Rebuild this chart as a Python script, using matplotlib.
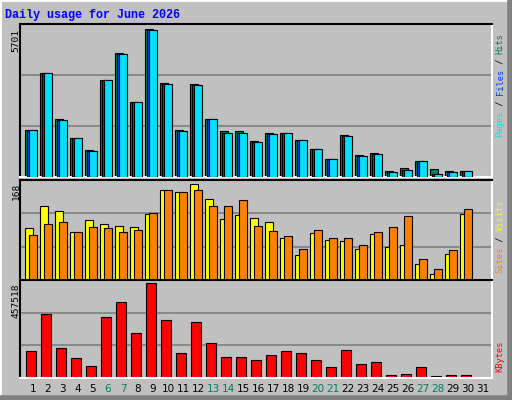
import matplotlib
matplotlib.use("Agg")
import matplotlib.pyplot as plt
from matplotlib.patches import Rectangle
from matplotlib.lines import Line2D

days = list(range(1, 32))
hits = [1802, 4028, 2226, 1493, 1030, 3732, 4775, 2883, 5701, 3616, 1802, 3578, 2226, 1763, 1763,
        1377, 1686, 1686, 1416, 1068, 682, 1609, 837, 914, 219, 335, 605, 296, 219, 219, 0]
files = [1802, 4028, 2188, 1493, 991, 3732, 4736, 2883, 5663, 3578, 1763, 3539, 2226, 1686, 1686,
         1338, 1647, 1686, 1416, 1068, 682, 1570, 798, 875, 180, 257, 605, 103, 180, 219, 0]
pages = [1802, 4028, 2188, 1493, 991, 3732, 4736, 2883, 5663, 3578, 1763, 3539, 2226, 1686, 1686,
         1338, 1647, 1686, 1416, 1068, 682, 1570, 798, 875, 180, 257, 605, 103, 180, 219, 0]
visits = [90, 130, 121, 84, 104, 97, 95, 92, 115, 157, 153, 168, 141, 106, 113, 108, 102, 73, 44, 82,
          70, 68, 55, 81, 57, 61, 28, 10, 46, 115, 0]
sites = [79, 97, 102, 84, 92, 90, 84, 88, 117, 157, 153, 157, 130, 130, 139, 95, 86, 77, 55, 88,
         73, 73, 61, 84, 92, 112, 37, 19, 52, 124, 0]
kbytes = [128104, 307790, 143080, 98158, 58230, 292811, 367675, 217944, 457518, 277840, 123114,
          272847, 168033, 103150, 103150, 88175, 113130, 128104, 123114, 88175, 53238, 133096,
          68212, 78194, 13310, 18300, 53238, 8318, 13310, 13310, 0]
weekend = [6, 7, 13, 14, 20, 21, 27, 28]
title = "Daily usage for June 2026"

W, H = 512, 400
BG = "#C0C0C0"
fig = plt.figure(figsize=(W / 100, H / 100), dpi=100, facecolor=BG)

def ax_px(x0, y0, x1, y1):
    return fig.add_axes([x0 / W, 1 - y1 / H, (x1 - x0) / W, (y1 - y0) / H])

# outer 3D border
fig.add_artist(Rectangle((0, 0), 1, 1, transform=fig.transFigure, fill=False, ec="white", lw=2))
fig.add_artist(Line2D([0, 1], [2.5 / H, 2.5 / H], transform=fig.transFigure, color="#808080", lw=4))
fig.add_artist(Line2D([1 - 2.5 / W, 1 - 2.5 / W], [0, 1], transform=fig.transFigure, color="#808080", lw=4))

XL = (0.1667, 0.1667 + 472 / 15)

def style(ax, ymax):
    ax.set_facecolor(BG)
    ax.set_xlim(*XL)
    ax.set_ylim(0, ymax)
    ax.set_xticks([]); ax.set_yticks([])
    for s in ("left", "top"):
        ax.spines[s].set_color("black"); ax.spines[s].set_linewidth(1.5)
    for s in ("right", "bottom"):
        ax.spines[s].set_color("white"); ax.spines[s].set_linewidth(1.5)
    for f in (1 / 3, 2 / 3):
        ax.axhline(ymax * f, color="#808080", lw=1.2, zorder=0)

bw = 8 / 15
# top panel
ax1 = ax_px(20, 24, 492, 177)
style(ax1, 5701 * 1.035)
for d, h, f, p in zip(days, hits, files, pages):
    if h == 0:
        continue
    ax1.bar(d - 0.5, h, width=bw, align="edge", color="#00805C", ec="black", lw=0.8, zorder=2)
    ax1.bar(d - 0.5 + 2 / 15, f, width=bw, align="edge", color="#0040FF", ec="black", lw=0.8, zorder=3)
    ax1.bar(d - 0.5 + 4 / 15, p, width=bw - 0.02, align="edge", color="#00E0FF", ec="black", lw=0.8, zorder=4)

# middle panel
ax2 = ax_px(20, 180, 492, 280)
style(ax2, 168 * 1.04)
for d, v, s in zip(days, visits, sites):
    if v == 0:
        continue
    ax2.bar(d - 0.5, v, width=bw, align="edge", color="#FFFF00", ec="black", lw=0.8, zorder=2)
    ax2.bar(d - 0.5 + 4 / 15, s, width=bw - 0.02, align="edge", color="#FF8000", ec="black", lw=0.8, zorder=3)

# bottom panel
ax3 = ax_px(20, 280, 492, 378)
style(ax3, 457518 * 1.035)
for d, k in zip(days, kbytes):
    if k == 0:
        continue
    ax3.bar(d - 0.5 + 1 / 15, k, width=0.7, align="edge", color="#FF0000", ec="black", lw=0.8, zorder=2)

# day labels
for d in days:
    fig.text((20 + (d + 0.03 - XL[0]) * 15) / W, 1 - 389 / H, str(d), ha="center", va="center",
             fontsize=7.5, family="DejaVu Sans",
             color="#00805C" if d in weekend else "black")

fig.text(5 / W, 1 - 15 / H, title, ha="left", va="center", fontsize=8.5, weight="bold",
         family="Liberation Mono", color="#0000FF")

mono = dict(family="DejaVu Sans Mono", fontsize=6.8, rotation=90, rotation_mode="anchor")
for txt, ytop in (("5701", 29), ("168", 183), ("457518", 283)):
    fig.text(16 / W, 1 - ytop / H, txt, ha="right", va="center", color="black", **mono)

def seglabel(parts, ybottom):
    step = 5.2
    k = 0
    for txt, col in parts:
        fig.text(500 / W, (H - ybottom + k * step) / H, txt, ha="left", va="center", color=col,
                 family="DejaVu Sans Mono", fontsize=6.3, rotation=90, rotation_mode="anchor")
        k += len(txt)

seglabel([("Pages", "#00E0FF"), (" / ", "black"), ("Files", "#0040FF"), (" / ", "black"),
          ("Hits", "#00805C")], 137)
seglabel([("Sites", "#FF8000"), (" / ", "black"), ("Visits", "#FFFF00")], 273)
seglabel([("KBytes", "#FF0000")], 372)

fig.savefig("out.png", dpi=100, facecolor=BG)
